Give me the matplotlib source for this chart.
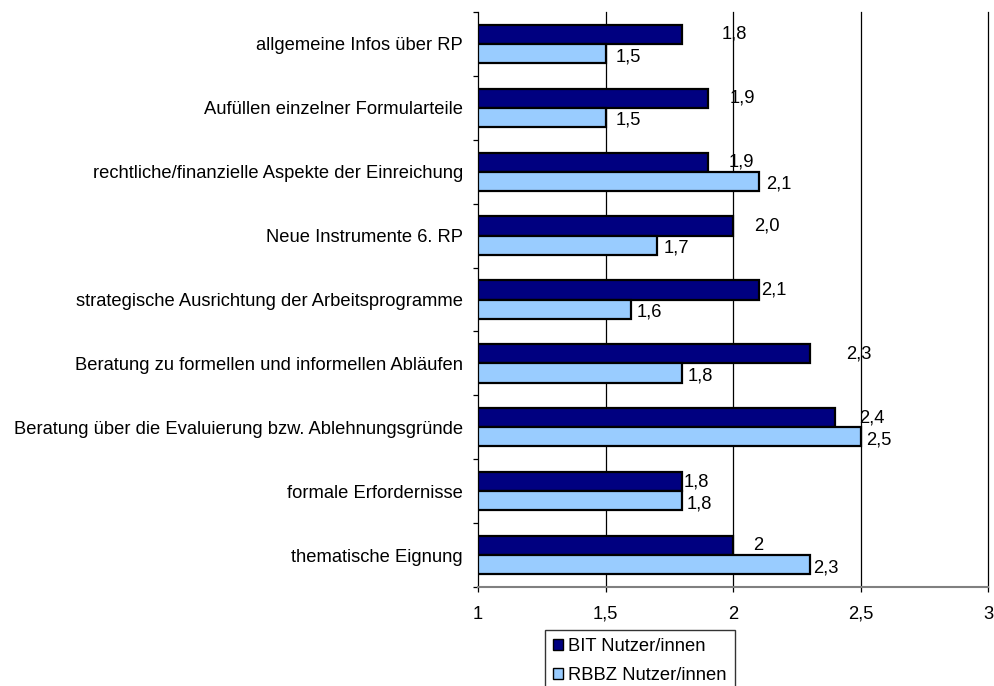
import matplotlib
matplotlib.use("Agg")
import matplotlib.pyplot as plt
from matplotlib.ticker import FixedLocator, FixedFormatter

plt.rcParams["font.family"] = ["Liberation Sans", "DejaVu Sans"]

# Survey items, listed top to bottom
categories = [
    "allgemeine Infos über RP",
    "Aufüllen einzelner Formularteile",
    "rechtliche/finanzielle Aspekte der Einreichung",
    "Neue Instrumente 6. RP",
    "strategische Ausrichtung der Arbeitsprogramme",
    "Beratung zu formellen und informellen Abläufen",
    "Beratung über die Evaluierung bzw. Ablehnungsgründe",
    "formale Erfordernisse",
    "thematische Eignung",
]
series_names = ["BIT Nutzer/innen", "RBBZ Nutzer/innen"]
bit_values = [1.8, 1.9, 1.9, 2.0, 2.1, 2.3, 2.4, 1.8, 2.0]
rbbz_values = [1.5, 1.5, 2.1, 1.7, 1.6, 1.8, 2.5, 1.8, 2.3]
# decimals shown in each value label
bit_decimals = [1, 1, 1, 1, 1, 1, 1, 1, 0]
rbbz_decimals = [1, 1, 1, 1, 1, 1, 1, 1, 1]
x_ticks = [1, 1.5, 2, 2.5, 3]
x_tick_labels = ["1", "1,5", "2", "2,5", "3"]

# horizontal gap (pixels) between bar end and its value label
bit_label_gap = [40, 22, 21, 21, 2.5, 37, 24, 1.3, 20]
rbbz_label_gap = [10, 10, 8, 7, 6, 6, 6, 5, 4]

DARK = "#000080"
LIGHT = "#99CCFF"
FS = 13.2
PX = 72 / 100  # points per pixel at dpi 100

fig = plt.figure(figsize=(9.94, 6.86), dpi=100)
W, H = 994, 686
ax = fig.add_axes([478 / W, 1 - 587 / H, (988 - 478) / W, (587 - 12) / H])

ypos = list(range(len(categories)))
bh = 0.3
y_bit = [y - bh / 2 for y in ypos]
y_rbbz = [y + bh / 2 for y in ypos]

ax.barh(y_bit, [v - 1 for v in bit_values], left=1, height=bh, color=DARK,
        edgecolor="black", linewidth=1.6, label=series_names[0], zorder=3)
ax.barh(y_rbbz, [v - 1 for v in rbbz_values], left=1, height=bh, color=LIGHT,
        edgecolor="black", linewidth=1.6, label=series_names[1], zorder=3)

def fmt(v, d):
    return f"{v:.{d}f}".replace(".", ",")

for y, v, d, g in zip(y_bit, bit_values, bit_decimals, bit_label_gap):
    ax.annotate(fmt(v, d), (v, y), xytext=(g * PX, 0), textcoords="offset points",
                ha="left", va="center", fontsize=FS, zorder=4)
for y, v, d, g in zip(y_rbbz, rbbz_values, rbbz_decimals, rbbz_label_gap):
    ax.annotate(fmt(v, d), (v, y), xytext=(g * PX, -3 * PX), textcoords="offset points",
                ha="left", va="center", fontsize=FS, zorder=4)

ax.set_xlim(1, 3)
ax.set_ylim(len(categories) - 0.5, -0.5)

# vertical grid lines
for xv in x_ticks[1:]:
    ax.axvline(xv, color="black", linewidth=0.9, zorder=1, clip_on=False)

ax.xaxis.set_major_locator(FixedLocator(x_ticks))
ax.xaxis.set_major_formatter(FixedFormatter(x_tick_labels))
ax.tick_params(axis="x", direction="out", length=5 * PX, width=0.9, colors="black",
               labelsize=FS, pad=10)

ax.set_yticks(ypos)
ax.set_yticklabels(categories)
ax.yaxis.set_minor_locator(FixedLocator([y - 0.5 for y in ypos] + [len(ypos) - 0.5]))
ax.tick_params(axis="y", which="major", length=0, labelsize=FS, pad=15 * PX)
ax.tick_params(axis="y", which="minor", length=5 * PX, width=0.9, direction="out")

for s in ["top", "right"]:
    ax.spines[s].set_visible(False)
ax.spines["left"].set_color("black")
ax.spines["left"].set_linewidth(0.9)
ax.spines["bottom"].set_color("#808080")
ax.spines["bottom"].set_linewidth(1.5)

leg = fig.legend(loc="upper left", bbox_to_anchor=(545 / W, 1 - 630 / H),
                 fontsize=FS, frameon=True, fancybox=False, shadow=False,
                 handlelength=0.55, handleheight=0.55, handletextpad=0.25,
                 borderpad=0.45, labelspacing=0.65, borderaxespad=0)
leg.get_frame().set_edgecolor("black")
leg.get_frame().set_linewidth(1.0)
for h in leg.legend_handles:
    h.set_linewidth(1.0)

fig.savefig("out.png", dpi=100)
